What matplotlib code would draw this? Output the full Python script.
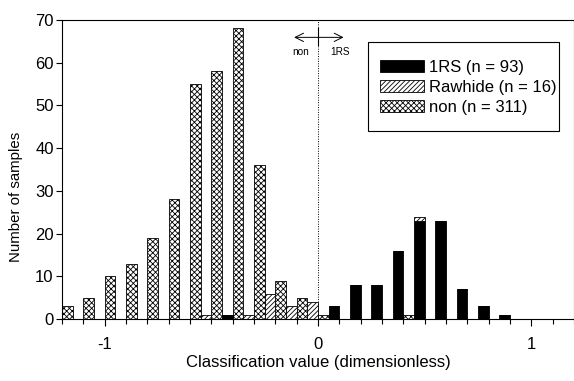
import matplotlib
matplotlib.use("Agg")
import matplotlib.pyplot as plt
from matplotlib.patches import Rectangle
import numpy as np

plt.rcParams['font.family'] = ['Liberation Sans', 'DejaVu Sans']
plt.rcParams['axes.unicode_minus'] = False
plt.rcParams['hatch.linewidth'] = 0.6

# Histogram bin left edges (bin width 0.1)
bin_left = [-1.2, -1.1, -1.0, -0.9, -0.8, -0.7, -0.6, -0.5, -0.4, -0.3, -0.2,
            -0.1, 0.0, 0.1, 0.2, 0.3, 0.4, 0.5, 0.6, 0.7, 0.8]
non_counts = [3, 5, 10, 13, 19, 28, 55, 58, 68, 36, 9, 5, 1, 0, 0, 0, 1, 0, 0, 0, 0]
rawhide_counts = [0, 0, 0, 0, 0, 0, 1, 0, 1, 6, 3, 4, 0, 0, 0, 0, 1, 0, 0, 0, 0]
rs_counts = [0, 0, 0, 0, 0, 0, 0, 1, 0, 0, 0, 0, 3, 8, 8, 16, 23, 23, 7, 3, 1]

labels = ['1RS (n = 93)', 'Rawhide (n = 16)', 'non (n = 311)']
x_ticks = [-1, 0, 1]
y_ticks = [0, 10, 20, 30, 40, 50, 60, 70]

fig = plt.figure(figsize=(5.74, 3.81), dpi=100)
ax = fig.add_axes([0.108, 0.162, 0.892, 0.786])

left = np.array(bin_left)
non = np.array(non_counts)
raw = np.array(rawhide_counts)
rs = np.array(rs_counts)
w = 0.05

b_non = ax.bar(left, non, width=w, align='edge', color='white', edgecolor='black',
               hatch='xxxxxx', linewidth=0.6)
b_rs = ax.bar(left + w, rs, width=w, align='edge', color='black', edgecolor='black',
              linewidth=0.6)
b_raw = ax.bar(left + w, raw, width=w, bottom=rs, align='edge', color='white',
               edgecolor='black', hatch='///////', linewidth=0.6)

ax.axvline(0, color='black', linestyle=(0, (1, 1.5)), linewidth=0.7)

ax.set_xlim(-1.2, 1.2)
ax.set_ylim(0, 70)
ax.set_xticks(x_ticks)
ax.set_xticklabels(['-1', '0', '1'])
ax.set_xticks(np.arange(-1.2, 1.21, 0.1), minor=True)
ax.set_yticks(y_ticks)
ax.tick_params(axis='both', which='major', direction='out', width=0.8,
               labelsize=12)
ax.tick_params(axis='y', which='major', length=4, pad=2)
ax.tick_params(axis='x', which='major', length=5, pad=8)
ax.tick_params(axis='x', which='minor', direction='out', length=3.5, width=0.8)
for s in ax.spines.values():
    s.set_linewidth(0.8)

ax.set_xlabel('Classification value (dimensionless)', fontsize=12, labelpad=2)
ax.set_ylabel('Number of samples', fontsize=10.8, labelpad=9, y=0.41)

# arrow annotation
ax.annotate('', xy=(-0.112, 65.9), xytext=(0.12, 65.9),
            arrowprops=dict(arrowstyle='<->,head_length=0.6,head_width=0.3',
                            color='black', lw=0.7,
                            mutation_scale=10, shrinkA=0, shrinkB=0))
ax.plot([0, 0], [64.0, 68.0], color='black', lw=0.8)
ax.text(-0.083, 62.4, 'non', ha='center', va='center', fontsize=7.2)
ax.text(0.104, 62.4, '1RS', ha='center', va='center', fontsize=7.2)

# legend (frame drawn separately)
leg = ax.legend([b_rs, b_raw, b_non], labels, loc='center left',
                bbox_to_anchor=(0.621, 0.775), fontsize=12, frameon=False,
                handlelength=2.65, handleheight=0.78, handletextpad=0.3,
                labelspacing=0.3, borderpad=0, borderaxespad=0)
ax.add_patch(Rectangle((0.598, 0.629), 0.971 - 0.598, 0.926 - 0.629,
                       transform=ax.transAxes, fill=False, edgecolor='black',
                       linewidth=0.8, zorder=5))

fig.savefig('out.png', dpi=100)
